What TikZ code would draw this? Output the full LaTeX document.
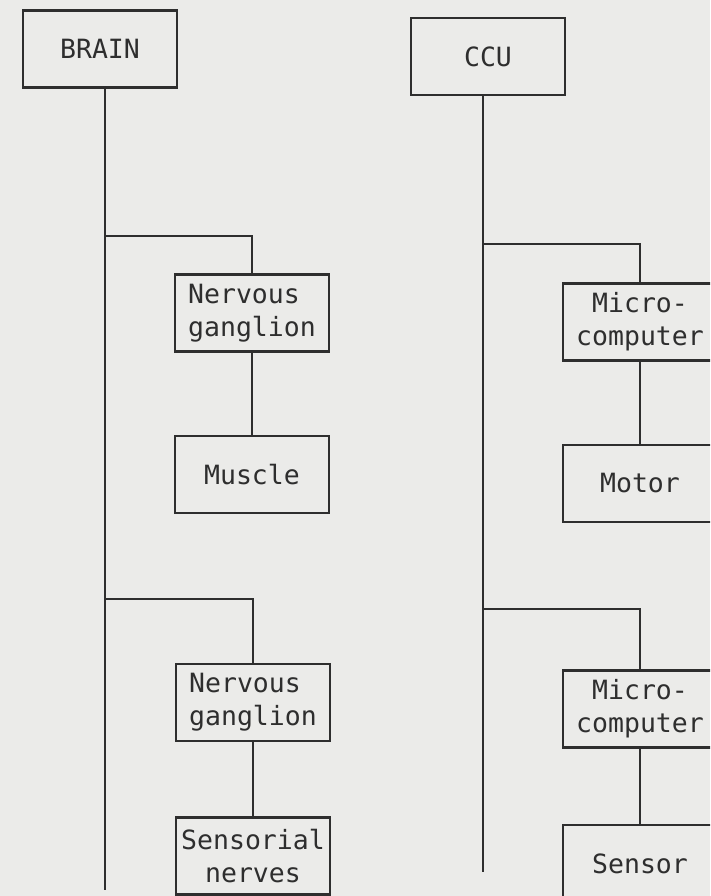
\documentclass[tikz,border=0pt]{standalone}
\usepackage{fontspec}
\setmonofont{DejaVu Sans Mono}
\usetikzlibrary{positioning}
\definecolor{paper}{HTML}{EBEBE9}
\definecolor{ink}{HTML}{2E2E2E}

\begin{document}
\begin{tikzpicture}[
 x=1pt,y=-1pt,
 node distance=82pt,
 box/.style={draw=ink,text=ink,line width=2.4pt,align=center,minimum width=154pt,
              minimum height=77pt,inner sep=0pt,font=\ttfamily\fontsize{26.5}{33}\selectfont},
 link/.style={draw=ink,line width=2.4pt}
]
\fill[paper] (0,0) rectangle (710,896);
\useasboundingbox (0,0) rectangle (710,896);
\clip (0,0) rectangle (710,896);
% living side
\node[box] (brain) at (100,49) {BRAIN};
\node[box,align=left] (gangA) at (252,313) {Nervous\\ganglion};
\node[box,below=of gangA] (muscle) {Muscle};
\node[box,align=left] (gangB) at (253,702.5) {Nervous\\ganglion};
\node[box,below=74pt of gangB] (nerves) {Sensorial\\nerves};
\coordinate (lj1) at (105,236);
\coordinate (lj2) at (105,599);
\coordinate (lend) at (105,890);
\draw[link] (brain.south -| lend) -- (lend);
\draw[link] (lj1) -| (gangA.north);
\draw[link] (gangA) -- (muscle);
\draw[link] (lj2) -| (gangB.north);
\draw[link] (gangB) -- (nerves);
% machine side
\node[box] (ccu) at (488,56.5) {CCU};
\node[box] (microA) at (640,322) {Micro-\\computer};
\node[box,below=of microA] (motor) {Motor};
\node[box] (microB) at (640,709) {Micro-\\computer};
\node[box,below=75pt of microB] (sensor) {Sensor};
\coordinate (rj1) at (483,244);
\coordinate (rj2) at (483,609);
\coordinate (rend) at (483,872);
\draw[link] (ccu.south -| rend) -- (rend);
\draw[link] (rj1) -| (microA.north);
\draw[link] (microA) -- (motor);
\draw[link] (rj2) -| (microB.north);
\draw[link] (microB) -- (sensor);
\end{tikzpicture}
\end{document}
